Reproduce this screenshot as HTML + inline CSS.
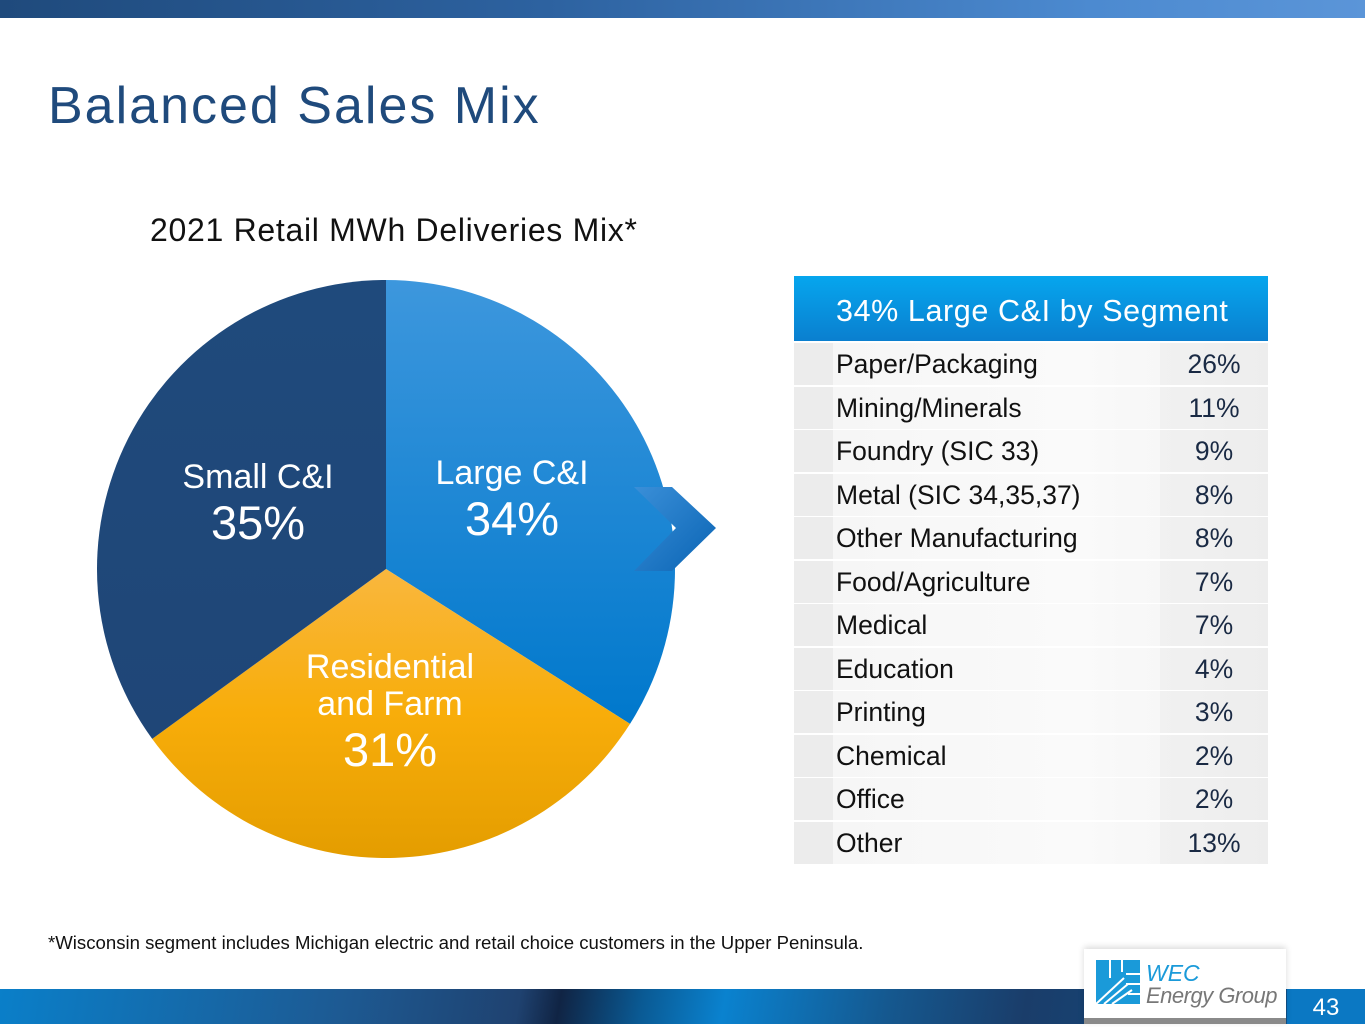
<!DOCTYPE html>
<html><head><meta charset="utf-8"><style>
body{margin:0;width:1365px;height:1024px;position:relative;overflow:hidden;background:#fff;font-family:"Liberation Sans",sans-serif}
.abs{position:absolute}
.row{position:absolute;left:794px;width:474px;height:42px;background:linear-gradient(90deg,#efefef,#f6f6f6 8%,#fafafa 60%,#f3f3f3 100%)}
.row span{position:absolute;top:0;line-height:43px;font-size:26.5px;color:#111}
.row .v{left:1160px;left:366px;width:108px;text-align:center;color:#1a2a44}
</style></head><body>
<div class="abs" style="left:0;top:0;width:1365px;height:18px;background:linear-gradient(90deg,#1f4a7c,#2d62a0 40%,#4c8ad0 80%,#5b95d8)"></div>
<div class="abs" style="left:48px;top:76px;font-size:52px;color:#1f4a7c;letter-spacing:2px">Balanced Sales Mix</div>
<div class="abs" style="left:150px;top:212px;font-size:32px;color:#111;letter-spacing:0.7px">2021 Retail MWh Deliveries Mix*</div>
<svg class="abs" style="left:0;top:0" width="1365" height="1024">
<defs>
<linearGradient id="gL" x1="0" y1="0" x2="0" y2="1"><stop offset="0" stop-color="#3d97dd"/><stop offset="1" stop-color="#0078cc"/></linearGradient>
<linearGradient id="gR" x1="0" y1="0" x2="0" y2="1"><stop offset="0" stop-color="#f9b73e"/><stop offset="0.5" stop-color="#f8ad0a"/><stop offset="1" stop-color="#e49d00"/></linearGradient>
<linearGradient id="gS" x1="0" y1="0" x2="0" y2="1"><stop offset="0" stop-color="#1f4a7c"/><stop offset="1" stop-color="#1f4677"/></linearGradient>
<linearGradient id="gA" x1="0" y1="0" x2="1" y2="1"><stop offset="0" stop-color="#3a8fd8"/><stop offset="1" stop-color="#0a64b4"/></linearGradient>
</defs>
<g id="pie"></g>
<polygon points="634,487 672,487 716,528 672,571 634,571 676,528" fill="url(#gA)"/>
</svg>
<div class="abs" style="left:158px;top:458px;width:200px;text-align:center;color:#fff;font-size:34px;line-height:38px">Small C&amp;I<br><span style="font-size:47px;line-height:54px">35%</span></div>
<div class="abs" style="left:412px;top:454px;width:200px;text-align:center;color:#fff;font-size:34px;line-height:38px">Large C&amp;I<br><span style="font-size:47px;line-height:54px">34%</span></div>
<div class="abs" style="left:290px;top:649px;width:200px;text-align:center;color:#fff;font-size:34px;line-height:37px">Residential<br>and Farm<br><span style="font-size:47px;line-height:54px">31%</span></div>

<div class="abs" style="left:794px;top:276px;width:474px;height:65px;background:linear-gradient(180deg,#06a6ee,#0a7fcf);color:#fff;font-size:30.5px;line-height:70px;letter-spacing:0.6px"><span style="margin-left:42px">34% Large C&amp;I by Segment</span></div>
<div id="rows"></div>

<div class="abs" style="left:48px;top:932px;font-size:18.6px;color:#111">*Wisconsin segment includes Michigan electric and retail choice customers in the Upper Peninsula.</div>
<div class="abs" style="left:0;top:989px;width:1365px;height:35px;background:linear-gradient(100deg,#0a7fc9 0%,#1d5a93 25%,#1f4270 38%,#102444 41%,#0a5a94 47%,#0a82cf 53%,#15588f 65%,#1a3d6a 75%,#104a7e 90%,#0e5a98 100%)"></div>
<div class="abs" style="left:1287px;top:989px;width:78px;height:35px;background:#0b78c3;color:#fff;font-size:24px;line-height:38px;text-align:center">43</div>
<div class="abs" style="left:1084px;top:949px;width:202px;height:75px;background:#fff;box-shadow:0 -2px 6px rgba(0,0,0,0.15)">
<div class="abs" style="left:0;bottom:0;width:202px;height:6px;background:#8a8a8a"></div>
<svg class="abs" style="left:12px;top:11px" width="44" height="44"><rect width="44" height="44" fill="#1a9ad9"/><g stroke="#fff" stroke-width="2"><line x1="14" y1="0" x2="14" y2="18"/><line x1="26" y1="0" x2="26" y2="12"/><line x1="30" y1="14" x2="44" y2="14"/><line x1="0" y1="44" x2="28" y2="18"/><line x1="8" y1="44" x2="32" y2="24"/><line x1="16" y1="44" x2="36" y2="30"/><line x1="30" y1="24" x2="44" y2="24"/><line x1="32" y1="34" x2="44" y2="34"/></g></svg>
<div class="abs" style="left:62px;top:12px;font-size:23px;font-style:italic;color:#1a9ad9;line-height:24px">WEC</div>
<div class="abs" style="left:62px;top:35px;font-size:22px;font-style:italic;color:#777;line-height:24px;letter-spacing:-0.5px">Energy Group</div>
</div>
<script>
const categories=["Large C&I","Residential and Farm","Small C&I"];
const values=[34,31,35];
const fills=["url(#gL)","url(#gR)","url(#gS)"];
const segNames=["Paper/Packaging","Mining/Minerals","Foundry (SIC 33)","Metal (SIC 34,35,37)","Other Manufacturing","Food/Agriculture","Medical","Education","Printing","Chemical","Office","Other"];
const segValues=[26,11,9,8,8,7,7,4,3,2,2,13];
const cx=386,cy=569,r=289;
const g=document.getElementById('pie');
const total=values.reduce((a,b)=>a+b,0);
let a0=0;
function pt(a){const t=a/total*2*Math.PI;return [cx+r*Math.sin(t),cy-r*Math.cos(t)];}
values.forEach((v,i)=>{
  const p0=pt(a0),p1=pt(a0+v);const big=v/total>0.5?1:0;
  const p=document.createElementNS('http://www.w3.org/2000/svg','path');
  p.setAttribute('d',`M${cx},${cy}L${p0[0]},${p0[1]}A${r},${r} 0 ${big} 1 ${p1[0]},${p1[1]}Z`);
  p.setAttribute('fill',fills[i]);
  
  
  g.appendChild(p);a0+=v;
});
const rows=document.getElementById('rows');
segNames.forEach((n,i)=>{
  const d=document.createElement('div');d.className='row';
  d.style.top=Math.round(343+i*43.5)+'px';
  
  
  d.innerHTML='<div style="position:absolute;left:0;top:0;width:39px;height:100%;background:#ececec"></div><div style="position:absolute;left:366px;top:0;width:108px;height:100%;background:rgba(0,0,0,0.025)"></div><span style="left:42px">'+n+'</span><span class="v">'+segValues[i]+'%</span>';
  rows.appendChild(d);
});
</script>
</body></html>
